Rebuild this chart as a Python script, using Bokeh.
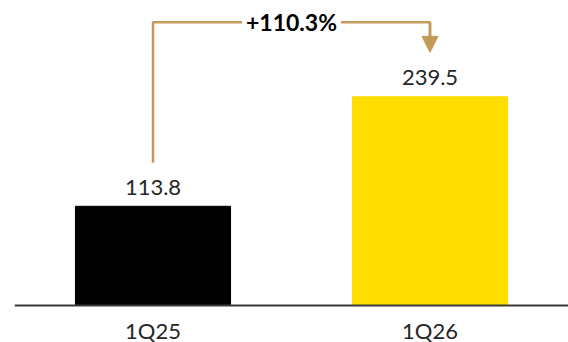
from bokeh.plotting import figure
from bokeh.models import Range1d, Label, Arrow, NormalHead, ColumnDataSource, Span
from bokeh.core.properties import value
from bokeh.embed import file_html
from bokeh.resources import INLINE

# ---- data ----
categories = ["1Q25", "1Q26"]
values = [113.8, 239.5]
value_labels = ["113.8", "239.5"]
bar_colors = ["#000000", "#FFDD00"]
change_label = "+110.3%"

# ---- style / layout ----
GOLD = "#C29B57"
FONT = "Lato"
TEXT = "#262626"
xs = list(range(len(categories)))

p = figure(width=568, height=342, output_backend="svg", toolbar_location=None,
           x_range=Range1d(-0.5, len(categories) - 0.5), y_range=Range1d(-42.5, 350),
           x_axis_location=None, y_axis_location=None,
           min_border_left=14, min_border_right=0, min_border_top=0, min_border_bottom=0)
p.outline_line_color = None
p.xgrid.visible = False
p.ygrid.visible = False

src = ColumnDataSource(dict(x=xs, top=values, color=bar_colors, label=value_labels,
                            cat=categories, zero=[0] * len(xs)))
p.vbar(x="x", top="top", bottom=0, width=0.56, color="color", source=src)
p.text(x="x", y="top", text="label", source=src, y_offset=-19,
       text_align="center", text_baseline="alphabetic",
       text_font=value(FONT), text_font_size="22px", text_color=TEXT)

# baseline (category axis line) and category labels
p.add_layout(Span(location=0, dimension="width", line_color="#3a3a3a", line_width=2))
p.text(x="x", y="zero", text="cat", source=src, y_offset=25,
       text_align="center", text_baseline="alphabetic",
       text_font=value(FONT), text_font_size="22px", text_color=TEXT)

# connector arrow
start_y = values[0] + 50
top_y = 325
tip_y = values[1] + 51
p.line(x=[xs[0], xs[0], xs[1], xs[1]], y=[start_y, top_y, top_y, tip_y + 10],
       line_color=GOLD, line_width=2.5)
p.add_layout(Arrow(end=NormalHead(size=16, fill_color=GOLD, line_color=GOLD, line_width=1),
                   x_start=xs[1], y_start=top_y, x_end=xs[1], y_end=tip_y,
                   line_color=GOLD, line_width=2.5))
p.add_layout(Label(x=(xs[0] + xs[1]) / 2, y=top_y, text=change_label,
                   text_align="center", text_baseline="middle",
                   text_font=FONT, text_font_style="bold", text_font_size="23px",
                   text_color="#000000", background_fill_color="white", padding=4))

open("out.html", "w").write(file_html(p, INLINE))
